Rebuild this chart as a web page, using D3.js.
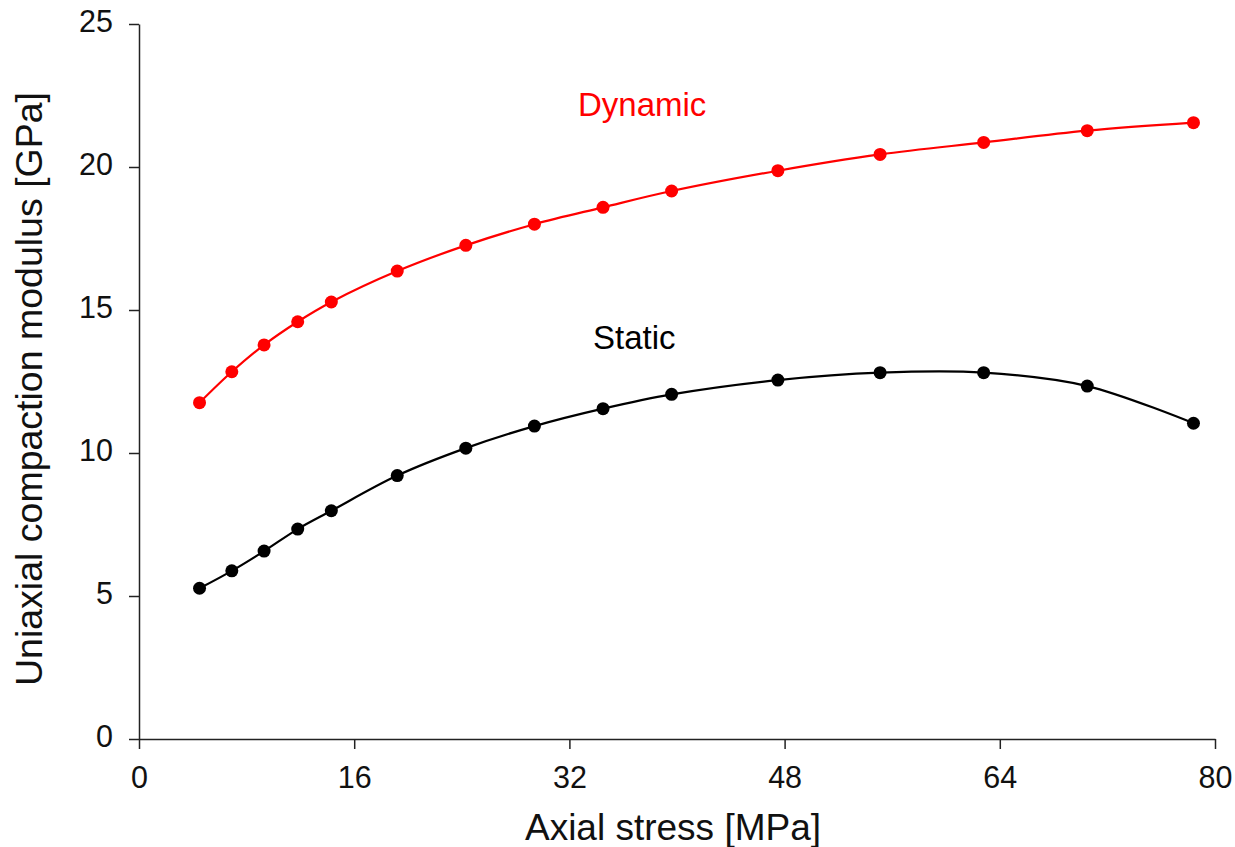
<!DOCTYPE html>
<html>
<head>
<meta charset="utf-8">
<script src="https://cdn.jsdelivr.net/npm/d3@7/dist/d3.min.js"></script>
<style>
  html, body { margin: 0; padding: 0; background: #fff; }
  svg { display: block; font-family: "Liberation Sans", Arial, sans-serif; }
</style>
</head>
<body>
<svg id="chart" width="1235" height="847"></svg>
<script>
// Axial stress [MPa] at each measurement step
const stress = [4.5, 6.9, 9.3, 11.8, 14.3, 19.2, 24.3, 29.4, 34.5, 39.6, 47.5, 55.1, 62.8, 70.5, 78.4];
// Dynamic uniaxial compaction modulus [GPa]
const dynamicModulus = [11.76, 12.84, 13.78, 14.59, 15.28, 16.36, 17.26, 18.0, 18.59, 19.16, 19.87, 20.44, 20.86, 21.27, 21.55];
// Static uniaxial compaction modulus [GPa]
const staticModulus = [5.27, 5.88, 6.57, 7.34, 7.98, 9.21, 10.17, 10.94, 11.55, 12.05, 12.55, 12.81, 12.81, 12.34, 11.04];

const xTicks = [0, 16, 32, 48, 64, 80];
const yTicks = [0, 5, 10, 15, 20, 25];

const svg = d3.select("#chart");
const plotLeft = 139, plotRight = 1215, plotTop = 24, plotBottom = 739;

const x = d3.scaleLinear().domain([0, 80]).range([plotLeft, plotRight]);
const y = d3.scaleLinear().domain([0, 25]).range([plotBottom, plotTop]);

// Axes
const xAxis = svg.append("g").attr("transform", `translate(0,${plotBottom})`)
  .call(d3.axisBottom(x).tickValues(xTicks).tickSize(10).tickSizeOuter(0).tickPadding(13));
const yAxis = svg.append("g").attr("transform", `translate(${plotLeft},0)`)
  .call(d3.axisLeft(y).tickValues(yTicks).tickSize(10).tickSizeOuter(0).tickPadding(16));

[xAxis, yAxis].forEach(g => {
  g.select(".domain").attr("stroke", "#222").attr("stroke-width", 1.5);
  g.selectAll(".tick line").attr("stroke", "#222").attr("stroke-width", 1.5);
  g.selectAll(".tick text").attr("fill", "#111")
    .style("font-size", "30.5px").style("font-family", "'Liberation Sans', Arial, sans-serif");
});
yAxis.selectAll(".tick text").attr("dy", "0.25em");
xAxis.selectAll(".tick text").attr("dy", "0.85em");

// Axis titles
svg.append("text")
  .attr("x", 673).attr("y", 840)
  .attr("text-anchor", "middle")
  .style("font-size", "37px").attr("fill", "#111")
  .text("Axial stress [MPa]");

svg.append("text")
  .attr("transform", "translate(42,389) rotate(-90)")
  .attr("text-anchor", "middle")
  .style("font-size", "37.5px").attr("fill", "#111")
  .text("Uniaxial compaction modulus [GPa]");

// Series
const series = [
  { name: "Dynamic", values: dynamicModulus, color: "#ff0000" },
  { name: "Static", values: staticModulus, color: "#000000" }
];

const line = d3.line()
  .x(d => x(d[0]))
  .y(d => y(d[1]))
  .curve(d3.curveCatmullRom.alpha(0.5));

series.forEach(s => {
  const pts = stress.map((v, i) => [v, s.values[i]]);
  svg.append("path")
    .datum(pts)
    .attr("fill", "none")
    .attr("stroke", s.color)
    .attr("stroke-width", 2.2)
    .attr("d", line);
  svg.append("g").selectAll("circle")
    .data(pts)
    .join("circle")
    .attr("cx", d => x(d[0]))
    .attr("cy", d => y(d[1]))
    .attr("r", 6.5)
    .attr("fill", s.color);
});

// Series labels
svg.append("text")
  .attr("x", 578).attr("y", 116)
  .style("font-size", "33px").attr("fill", "#ff0000")
  .text("Dynamic");
svg.append("text")
  .attr("x", 593).attr("y", 349)
  .style("font-size", "33px").attr("fill", "#000")
  .text("Static");
</script>
</body>
</html>
